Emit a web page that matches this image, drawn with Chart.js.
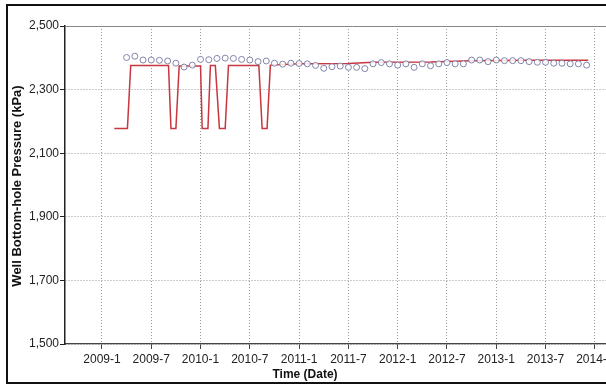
<!DOCTYPE html>
<html>
<head>
<meta charset="utf-8">
<script src="https://cdn.jsdelivr.net/npm/chart.js@4.4.1/dist/chart.umd.min.js"></script>
<style>
html,body{margin:0;padding:0;background:#fff;overflow:hidden;width:606px;height:384px;}
#wrap{position:relative;width:606px;height:384px;overflow:hidden;}
#c{position:absolute;left:0;top:0;}
#frame{position:absolute;left:6px;top:4px;width:700px;height:376px;border:2px solid #111;pointer-events:none;}
</style>
</head>
<body>
<div id="wrap">
<canvas id="c" width="660" height="384"></canvas>
<div id="frame"></div>
</div>
<script>
// x values are months since 2009-01
const xTickValues = [0, 6, 12, 18, 24, 30, 36, 42, 48, 54, 60];
const xTickLabels = ["2009-1","2009-7","2010-1","2010-7","2011-1","2011-7","2012-1","2012-7","2013-1","2013-7","2014-1"];
const yTickValues = [1500, 1700, 1900, 2100, 2300, 2500];

// observed bottom-hole pressure (circles)
const obsMonths = [3,4,5,6,7,8,9,10,11,12,13,14,15,16,17,18,19,20,21,22,23,24,25,26,27,28,29,30,31,32,33,34,35,36,37,38,39,40,41,42,43,44,45,46,47,48,49,50,51,52,53,54,55,56,57,58,59];
const obsValues = [2401,2405,2393,2393,2392,2390,2383,2371,2377,2395,2394,2398,2399,2398,2395,2393,2388,2390,2383,2380,2383,2382,2381,2376,2367,2372,2374,2370,2370,2366,2381,2385,2381,2377,2381,2370,2381,2375,2381,2385,2381,2381,2393,2393,2388,2393,2391,2391,2391,2388,2386,2386,2383,2383,2381,2381,2377];

// simulated bottom-hole pressure (red line)
const simMonths = [1.5,3.1,3.5,8.1,8.4,9.0,9.4,12.0,12.2,12.9,13.2,13.8,14.3,15.0,15.4,19.1,19.5,20.1,20.5,24,30,33,40,45,52,59.2];
const simValues = [2178,2178,2376,2376,2178,2178,2374,2374,2178,2178,2376,2376,2178,2178,2376,2376,2178,2178,2377,2381,2382,2386,2387,2391,2392,2392];

const obsData = obsMonths.map((m, i) => ({x: m, y: obsValues[i]}));
const simData = simMonths.map((m, i) => ({x: m, y: simValues[i]}));

const titlePlugin = {
  id: 'titles',
  afterDraw(chart) {
    const ctx = chart.ctx;
    const a = chart.chartArea;
    ctx.save();
    ctx.strokeStyle = '#888';
    ctx.lineWidth = 1;
    ctx.beginPath();
    ctx.moveTo(a.left, a.top + 0.5);
    ctx.lineTo(a.right, a.top + 0.5);
    ctx.stroke();
    ctx.fillStyle = '#111';
    ctx.textAlign = 'center';
    ctx.textBaseline = 'middle';
    ctx.font = 'bold 12px "Liberation Sans", Arial, sans-serif';
    ctx.fillText('Time (Date)', 305, 375);
    ctx.font = 'bold 13px "Liberation Sans", Arial, sans-serif';
    ctx.translate(17, 186);
    ctx.rotate(-Math.PI / 2);
    ctx.fillText('Well Bottom-hole Pressure (kPa)', 0, 0);
    ctx.restore();
  }
};

new Chart(document.getElementById('c'), {
  type: 'scatter',
  data: {
    datasets: [
      {
        label: 'Observed',
        data: obsData,
        pointStyle: 'circle',
        pointRadius: 3,
        pointBorderWidth: 1,
        pointBorderColor: '#7f84aa',
        pointBackgroundColor: 'rgba(255,255,255,0.85)',
        showLine: false
      },
      {
        label: 'Simulated',
        data: simData,
        showLine: true,
        borderColor: '#c8363f',
        borderWidth: 1.5,
        pointRadius: 0,
        tension: 0
      }
    ]
  },
  options: {
    responsive: false,
    animation: false,
    devicePixelRatio: 1,
    layout: {padding: {left: 0, top: 26, right: 20, bottom: 0}},
    plugins: {legend: {display: false}, tooltip: {enabled: false}},
    scales: {
      x: {
        type: 'linear',
        min: -4.5,
        max: 65.5,
        afterFit(s) { s.height = 40; },
        afterBuildTicks(s) { s.ticks = xTickValues.map(v => ({value: v})); },
        ticks: {
          autoSkip: false,
          maxRotation: 0,
          padding: 3,
          color: '#222',
          font: {family: '"Liberation Sans", Arial, sans-serif', size: 12},
          callback: (v) => { const i = xTickValues.indexOf(v); return i >= 0 ? xTickLabels[i] : ''; }
        },
        grid: {color: '#999', lineWidth: 1, drawTicks: true, tickLength: 5, tickColor: '#444', tickBorderDash: []},
        border: {display: true, color: '#444', width: 1.2, dash: [1, 2]}
      },
      y: {
        type: 'linear',
        min: 1500,
        max: 2500,
        afterFit(s) { s.width = 65; },
        afterBuildTicks(s) { s.ticks = yTickValues.map(v => ({value: v})); },
        ticks: {
          padding: 1,
          color: '#222',
          font: {family: '"Liberation Sans", Arial, sans-serif', size: 12},
          callback: (v) => v.toLocaleString('en-US')
        },
        grid: {color: '#999', lineWidth: 1, drawTicks: true, tickLength: 5, tickColor: '#222', tickBorderDash: []},
        border: {display: true, color: '#222', width: 1.5, dash: [1, 2]}
      }
    }
  },
  plugins: [titlePlugin]
});
</script>
</body>
</html>
